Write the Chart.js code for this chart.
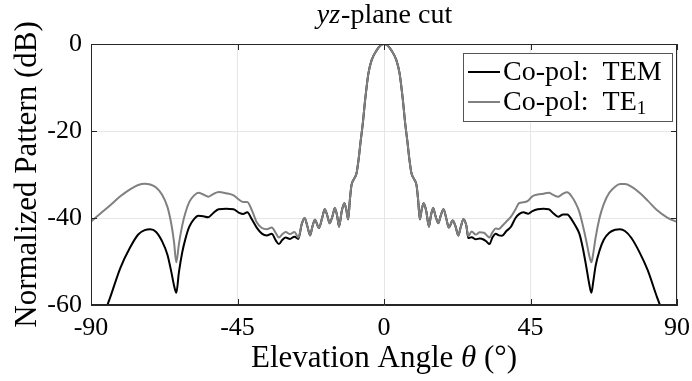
<!DOCTYPE html>
<html>
<head>
<meta charset="utf-8">
<script src="https://cdn.jsdelivr.net/npm/chart.js@4.4.0/dist/chart.umd.min.js"></script>
<style>
  html, body { margin: 0; padding: 0; background: #fff; }
  #wrap { width: 692px; height: 381px; }
</style>
</head>
<body>
<div id="wrap"><canvas id="c" width="692" height="381"></canvas></div>
<script>
// elevation angle in degrees
const angles = [
  -90, -87, -84, -81, -78, -75.5, -73.5, -71.8, -70, -68.2, -66.5, -65.3, -64.5, -63.8, -63, -62, -61,
  -59.8, -58.3, -57, -55.5, -54, -52.5, -50.8, -48.5, -46.2, -44.5, -43.3, -42, -40.6, -39.1, -37.5,
  -36, -34.5, -33.2, -32.3, -31.2, -30.2, -28.9, -27.5, -26.3, -25.3, -24.4, -23.5, -22.7, -22, -21.2,
  -20, -19, -18.2, -17.4, -16.7, -15.8, -15.1, -14.4, -13.8, -13, -12.2, -11.6, -11, -10.5, -10, -9.2,
  -8.4, -7.8, -7.2, -6.5, -5.8, -4.8, -3.8, -2.2, -1, 0,
  1, 2.2, 3.8, 4.8, 5.8, 6.5, 7.2, 7.8, 8.4, 9.2, 10, 10.5, 11, 11.6, 12.2, 13, 13.8, 14.4, 15.1, 15.8,
  16.7, 17.4, 18.3, 19.1, 19.9, 21.1, 22, 22.8, 23.6, 24.4, 25.3, 25.9, 26.9, 28.2, 29.4, 30.7, 31.6,
  32.4, 33.3, 34.3, 35.3, 36.2, 37.6, 39, 40.4, 41.5, 42.8, 44.3, 45.6, 47.2, 49, 50.6, 52, 53.5, 55,
  56.3, 57.6, 58.8, 60, 61.1, 62.2, 63, 63.7, 64.3, 65, 66.2, 67.5, 69.2, 71, 72.5, 74, 76, 78.5, 81,
  84, 87, 90
];

// Co-pol pattern, TE1 mode (dB)
const te1Db = [
  -40.8, -38.9, -37.0, -35.0, -33.4, -32.4, -32.1, -32.3, -33.0, -34.6, -37.5, -41.5, -45.5, -50.2, -46.0, -41.8, -38.8,
  -36.3, -34.8, -34.2, -34.6, -35.1, -34.5, -34.0, -34.3, -34.8, -35.8, -36.3, -36.3, -38.2, -41.0, -42.3,
  -42.6, -42.2, -43.5, -44.5, -43.7, -43.2, -43.7, -43.2, -44.5, -41.5, -40.0, -42.0, -44.0, -42.0, -40.4,
  -42.3, -40.0, -38.0, -39.5, -41.2, -39.5, -37.7, -39.5, -42.0, -38.5, -36.6, -38.0, -40.3, -36.0, -32.5, -31.0,
  -29.6, -26.5, -22.5, -18.2, -12.9, -6.8, -3.7, -1.4, -0.3, 0,
  -0.3, -1.4, -3.7, -6.8, -12.9, -18.2, -22.5, -26.5, -29.6, -31.0, -32.5, -36.0, -40.3, -38.0, -36.6, -38.5, -42.0, -39.5, -37.7, -39.5,
  -41.2, -39.5, -38.0, -40.0, -42.2, -40.6, -42.0, -44.0, -42.0, -40.3, -41.8, -44.2, -43.1, -43.8, -43.3, -43.4, -44.0,
  -44.5, -43.3, -42.4, -42.5, -41.9, -40.8, -39.7, -38.0, -36.6, -36.4, -36.0, -35.0, -34.6, -34.4, -34.2, -34.7, -35.1, -34.4,
  -34.1, -35.0, -36.5, -38.6, -41.8, -45.5, -48.5, -50.2, -48.0, -44.5, -40.0, -36.8, -34.2, -32.8, -32.2, -32.2, -32.8, -34.2, -36.0,
  -38.3, -39.9, -40.9
];

// Co-pol pattern, TEM mode (dB)
const temDb = [
  -68.0, -64.0, -58.0, -51.5, -46.8, -43.8, -42.8, -42.6, -43.2, -45.3, -48.5, -52.5, -55.5, -57.2, -52.5, -48.0, -44.8,
  -42.0, -40.2, -39.5, -39.6, -39.8, -38.9, -38.0, -37.9, -38.0, -38.8, -39.1, -38.7, -40.3, -42.2, -43.6,
  -44.0, -43.6, -45.2, -46.0, -45.0, -44.5, -44.8, -44.3, -44.8, -41.5, -40.0, -42.0, -44.0, -42.0, -40.4,
  -42.3, -40.0, -38.0, -39.5, -41.2, -39.5, -37.7, -39.5, -42.0, -38.5, -36.6, -38.0, -40.3, -36.0, -32.5, -31.0,
  -29.6, -26.5, -22.5, -18.2, -12.9, -6.8, -3.7, -1.4, -0.3, 0,
  -0.3, -1.4, -3.7, -6.8, -12.9, -18.2, -22.5, -26.5, -29.6, -31.0, -32.5, -36.0, -40.3, -38.0, -36.6, -38.5, -42.0, -39.5, -37.7, -39.5,
  -41.2, -39.5, -38.0, -40.0, -42.2, -40.6, -42.0, -44.0, -42.0, -40.3, -41.8, -44.6, -44.4, -44.9, -44.7, -45.0, -45.5,
  -46.0, -44.5, -43.6, -44.0, -44.1, -43.0, -42.0, -40.0, -39.1, -38.7, -39.0, -38.4, -38.0, -37.9, -38.0, -38.9, -39.7, -39.2,
  -39.2, -40.3, -41.8, -43.6, -47.0, -51.5, -55.0, -57.2, -54.5, -51.0, -47.5, -45.0, -43.4, -42.7, -42.6, -43.0, -44.6, -47.9, -52.0,
  -58.5, -64.0, -68.0
];

const xTicks = [-90, -45, 0, 45, 90];
const yTicks = [-60, -40, -20, 0];

const FONT = "'Liberation Serif', 'Times New Roman', serif";
const AXIS = '#262626';

function pts(vals) {
  return angles.map((a, i) => ({ x: a, y: vals[i] }));
}

const decor = {
  id: 'decor',
  afterDraw(chart) {
    const { ctx, chartArea: a, scales: { x, y } } = chart;
    ctx.save();

    // box and inward ticks
    ctx.strokeStyle = AXIS;
    ctx.lineWidth = 1;
    ctx.strokeRect(a.left + 0.5, a.top + 0.5, a.right - a.left - 1, a.bottom - a.top - 1);
    ctx.beginPath();
    xTicks.forEach(v => {
      const px = Math.round(x.getPixelForValue(v)) + 0.5;
      ctx.moveTo(px, a.bottom); ctx.lineTo(px, a.bottom - 6);
      ctx.moveTo(px, a.top); ctx.lineTo(px, a.top + 6);
    });
    yTicks.forEach(v => {
      const py = Math.round(y.getPixelForValue(v)) + 0.5;
      ctx.moveTo(a.left, py); ctx.lineTo(a.left + 6, py);
      ctx.moveTo(a.right, py); ctx.lineTo(a.right - 6, py);
    });
    ctx.stroke();

    ctx.fillStyle = '#000';
    ctx.textBaseline = 'alphabetic';
    const cx = (a.left + a.right) / 2;

    // title: italic yz + "-plane cut"
    const t1 = 'yz', t2 = '-plane cut';
    ctx.font = 'italic 28px ' + FONT;
    const w1 = ctx.measureText(t1).width;
    ctx.font = '28px ' + FONT;
    const w2 = ctx.measureText(t2).width;
    let tx = cx - (w1 + w2) / 2;
    ctx.textAlign = 'left';
    ctx.font = 'italic 28px ' + FONT;
    ctx.fillText(t1, tx, 23);
    ctx.font = '28px ' + FONT;
    ctx.fillText(t2, tx + w1 + 1, 23);

    // x axis title with italic theta
    const p1 = 'Elevation Angle ', p2 = 'θ', p3 = ' (°)';
    ctx.font = '31px ' + FONT;
    const q1 = ctx.measureText(p1).width, q3 = ctx.measureText(p3).width;
    ctx.font = 'italic 31px ' + FONT;
    const q2 = ctx.measureText(p2).width;
    tx = cx - (q1 + q2 + q3) / 2;
    ctx.font = '31px ' + FONT;
    ctx.fillText(p1, tx, 367);
    ctx.font = 'italic 31px ' + FONT;
    ctx.fillText(p2, tx + q1, 367);
    ctx.font = '31px ' + FONT;
    ctx.fillText(p3, tx + q1 + q2, 367);

    // y axis title
    ctx.save();
    ctx.translate(28, (a.top + a.bottom) / 2);
    ctx.rotate(-Math.PI / 2);
    ctx.textAlign = 'center';
    ctx.textBaseline = 'middle';
    ctx.font = '31px ' + FONT;
    ctx.fillText('Normalized Pattern (dB)', 0, 0);
    ctx.restore();

    // legend box in the upper right corner
    const lx = 463, ly = 53, lw = 209, lh = 68;
    ctx.fillStyle = '#fff';
    ctx.fillRect(lx, ly, lw, lh);
    ctx.strokeStyle = '#555';
    ctx.lineWidth = 1;
    ctx.strokeRect(lx + 0.5, ly + 0.5, lw, lh);
    const items = chart.data.datasets.slice().sort((d1, d2) => d2.order - d1.order);
    items.forEach((ds, i) => {
      const ry = ly + 19 + i * 30;
      ctx.strokeStyle = ds.borderColor;
      ctx.lineWidth = 2;
      ctx.beginPath();
      ctx.moveTo(lx + 5, ry); ctx.lineTo(lx + 37, ry);
      ctx.stroke();
      ctx.fillStyle = '#000';
      ctx.textAlign = 'left';
      ctx.textBaseline = 'middle';
      ctx.font = '28px ' + FONT;
      let label = ds.label.replace(': ', ':  '), sub = '';
      if (label.endsWith('₁')) { label = label.slice(0, -1); sub = '1'; }
      ctx.fillText(label, lx + 40, ry + 1);
      if (sub) {
        const lwid = ctx.measureText(label).width;
        ctx.font = '19px ' + FONT;
        ctx.fillText(sub, lx + 40 + lwid, ry + 7);
      }
    });

    ctx.restore();
  }
};

new Chart(document.getElementById('c'), {
  type: 'line',
  data: {
    datasets: [
      {
        label: 'Co-pol: TEM',
        data: pts(temDb),
        borderColor: '#000000',
        borderWidth: 2,
        pointRadius: 0,
        cubicInterpolationMode: 'monotone',
        order: 1
      },
      {
        label: 'Co-pol: TE₁',
        data: pts(te1Db),
        borderColor: '#808080',
        borderWidth: 2,
        pointRadius: 0,
        cubicInterpolationMode: 'monotone',
        order: 0
      }
    ]
  },
  options: {
    responsive: false,
    animation: false,
    layout: { padding: { top: 44, right: 15, left: 0, bottom: 0 } },
    plugins: {
      legend: { display: false },
      title: { display: false },
      tooltip: { enabled: false }
    },
    scales: {
      x: {
        type: 'linear',
        min: -90,
        max: 90,
        afterFit: s => { s.height = 76; s.paddingLeft = 0; s.paddingRight = 0; },
        afterBuildTicks: s => { s.ticks = xTicks.map(v => ({ value: v })); },
        ticks: { color: '#000', padding: 8, font: { family: FONT, size: 26 }, maxRotation: 0 },
        grid: { color: '#e6e6e6', drawTicks: false },
        border: { color: AXIS }
      },
      y: {
        min: -60,
        max: 0,
        afterFit: s => { s.width = 91; s.paddingTop = 0; s.paddingBottom = 0; },
        afterBuildTicks: s => { s.ticks = yTicks.map(v => ({ value: v })); },
        ticks: { color: '#000', padding: 9, font: { family: FONT, size: 26 } },
        grid: { color: '#e6e6e6', drawTicks: false },
        border: { color: AXIS }
      }
    }
  },
  plugins: [decor]
});
</script>
</body>
</html>
